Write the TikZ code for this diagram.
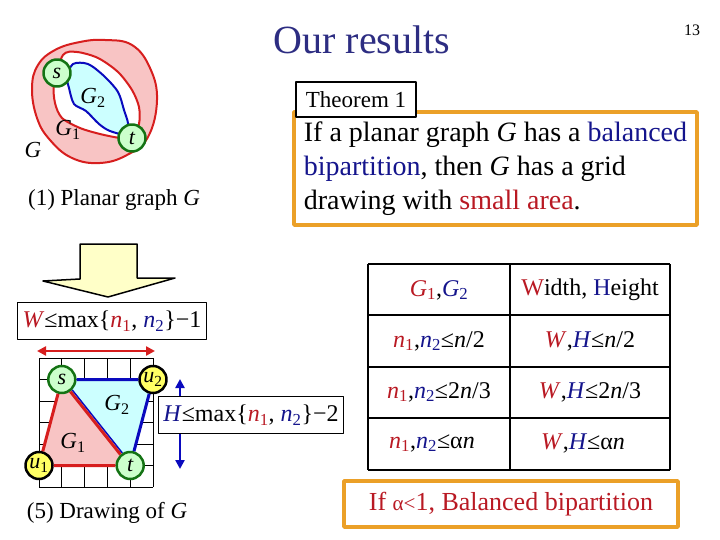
\documentclass[tikz,border=0pt]{standalone}
\usepackage{fontspec}
\setmainfont{Liberation Serif}
\usetikzlibrary{arrows.meta}
\definecolor{ttlblue}{RGB}{45,45,130}
\definecolor{txtred}{RGB}{185,25,35}
\definecolor{txtblue}{RGB}{20,20,140}
\definecolor{edgered}{RGB}{215,30,30}
\definecolor{edgeblue}{RGB}{10,10,190}
\definecolor{pinkfill}{RGB}{248,196,196}
\definecolor{cyanfill}{RGB}{204,255,255}
\definecolor{nodegreen}{RGB}{20,115,20}
\definecolor{greenfill}{RGB}{204,255,204}
\definecolor{yellowfill}{RGB}{255,255,100}
\definecolor{arrowfill}{RGB}{255,255,200}
\definecolor{boxorange}{RGB}{235,160,40}
\newcommand{\rd}[1]{\textcolor{txtred}{#1}}
\newcommand{\bl}[1]{\textcolor{txtblue}{#1}}
\newcommand{\sub}[2]{\textit{#1}\textsubscript{#2}}

\begin{document}
\begin{tikzpicture}[x=1pt, y=-1pt, line join=round,
	every node/.style={font=\fontsize{23}{28}\selectfont},
	vtx/.style={circle, line width=2.5pt, minimum size=27pt, inner sep=0pt, font=\fontsize{22}{24}\selectfont\itshape},
	gvtx/.style={vtx, draw=nodegreen, fill=greenfill},
	yvtx/.style={vtx, draw=black, fill=yellowfill},
	bound/.style={draw=black, line width=1.2pt, fill=white, inner xsep=5pt, minimum height=37pt},
	cell/.style={font=\fontsize{24}{28}\selectfont},
	>={Triangle[length=9pt,width=9pt]}]
	\useasboundingbox (0,0) rectangle (720,540);
	\node[ttlblue, font=\fontsize{40}{48}\selectfont] (title) at (362,40) {Our results};
	\node[font=\fontsize{16}{19}\selectfont] (page) at (692,30) {13};

	% planar graph G
	\draw[edgered, line width=2pt, fill=pinkfill] plot[smooth cycle, tension=0.7] coordinates {(105,40) (132,45) (150,68) (157,100) (148,137) (127,155) (100,163) (72,158) (50,140) (37,118) (32,88) (38,65) (55,50) (80,42)};
	\draw[edgered, line width=2pt, fill=white] plot[smooth cycle] coordinates {(63,55) (77,52) (98,58) (118,72) (132,90) (139,107) (139,124) (132,138) (120,138) (100,134) (80,128) (62,118) (55,103) (54,83)};
	\draw[edgeblue, line width=2pt, fill=cyanfill] plot[smooth cycle] coordinates {(73,64) (88,64) (104,76) (118,92) (124,110) (128,123) (128,135) (110,131) (99,124) (86,111) (74,104) (69,88) (67,77)};
	\node[gvtx] (ps) at (57,73) {s};
	\node[gvtx] (pt) at (132,138) {t};
	\node (pg2) at (93,98) {\sub{G}{2}};
	\node (pg1) at (68,130) {\sub{G}{1}};
	\node (pg) at (33,150) {\textit{G}};
	\node (pcap) at (114,200) {(1) Planar graph \textit{G}};

	\draw[line width=1.5pt, fill=arrowfill] (80,244) -- (137,244) -- (137,278) -- (175,278) -- (108,297) -- (43,281) -- (80,279) -- cycle;

	% drawing of G
	\node[bound, font=\fontsize{24}{28}\selectfont] (wbox) at (112,321) {\rd{\textit{W}}≤max\{\rd{\sub{n}{1}}, \bl{\sub{n}{2}}\}−1};
	\coordinate (wl) at (37,351);
	\coordinate (wr) at (155,351);
	\draw[<->, edgered, line width=2.5pt] (wl) -- (wr);
	\foreach \i in {0,...,5} \draw[line width=0.8pt] (39+22.8*\i,358) -- (39+22.8*\i,487);
	\foreach \j in {0,...,6} \draw[line width=0.8pt] (39,358+21.5*\j) -- (153,358+21.5*\j);
	\coordinate (cs) at (61.8,379.5);
	\coordinate (cu2) at (153,379.5);
	\coordinate (cu1) at (39,465.5);
	\coordinate (ct) at (130.2,465.5);
	\fill[pinkfill] (cs) -- (cu1) -- (ct) -- cycle;
	\fill[cyanfill] (cs) -- (cu2) -- (ct) -- cycle;
	\node[gvtx] (ds) at (cs) {s};
	\node[gvtx] (dt) at (ct) {t};
	\node[yvtx] (du1) at (cu1) {u\textsubscript{\upshape 1}};
	\node[yvtx] (du2) at (cu2) {u\textsubscript{\upshape 2}};
	\draw[edgered, line width=3pt] (ds) -- (du1) -- (dt);
	\draw[edgeblue, line width=3pt] (ds) -- (du2) -- (dt);
	\draw[edgeblue, line width=1.5pt, transform canvas={shift={(1.3pt,1pt)}}] (ds) -- (dt);
	\draw[edgered, line width=3pt, transform canvas={shift={(-0.6pt,-0.5pt)}}] (ds) -- (dt);
	\node (dg2) at (117,405) {\sub{G}{2}};
	\node (dg1) at (73,443) {\sub{G}{1}};
	\coordinate (hu) at (180,379);
	\coordinate (hd) at (180,469);
	\draw[<->, edgeblue, line width=2.5pt] (hu) -- (hd);
	\node[bound, font=\fontsize{24}{28}\selectfont] (hbox) at (251,415) {\bl{\textit{H}}≤max\{\rd{\sub{n}{1}}, \bl{\sub{n}{2}}\}−2};
	\node (dcap) at (107,513) {(5) Drawing of \textit{G}};

	% theorem
	\node[draw=boxorange, line width=3.5pt, fill=white, minimum width=403pt, minimum height=113pt, align=left, font=\fontsize{28}{34}\selectfont] (thm) at (495.5,168.5) {If a planar graph \textit{G} has a \bl{balanced}\\ \bl{bipartition}, then \textit{G} has a grid\\ drawing with \rd{small area}.};
	\node[draw, line width=2.5pt, fill=white, minimum width=120pt, minimum height=35pt] (thmlbl) at (356,99.5) {Theorem 1};

	% table
	\foreach \y in {264,315,367,418,470} \draw[line width=2pt] (368,\y) -- (670,\y);
	\foreach \x in {368,510,670} \draw[line width=2pt] (\x,264) -- (\x,470);
	\node[cell] (h1) at (439,290) {\rd{\sub{G}{1}},\bl{\sub{G}{2}}};
	\node[cell] (h2) at (590,290) {\rd{W}idth, \bl{H}eight};
	\node[cell] (r1a) at (439,341) {\rd{\sub{n}{1}},\bl{\sub{n}{2}}≤\textit{n}/2};
	\node[cell] (r1b) at (590,341) {\rd{\textit{W}},\bl{\textit{H}}≤\textit{n}/2};
	\node[cell] (r2a) at (439,392) {\rd{\sub{n}{1}},\bl{\sub{n}{2}}≤2\textit{n}/3};
	\node[cell] (r2b) at (590,392) {\rd{\textit{W}},\bl{\textit{H}}≤2\textit{n}/3};
	\node[cell] (r3a) at (432,443) {\rd{\sub{n}{1}},\bl{\sub{n}{2}}≤α\textit{n}};
	\node[cell] (r3b) at (583,443) {\rd{\textit{W}},\bl{\textit{H}}≤α\textit{n}};
	\node[draw=boxorange, line width=3.5pt, minimum width=334pt, minimum height=46pt, text=txtred, font=\fontsize{26}{30}\selectfont] (cond) at (511,504) {If {\fontsize{21}{24}\selectfont α<}1, Balanced bipartition};
\end{tikzpicture}
\end{document}
